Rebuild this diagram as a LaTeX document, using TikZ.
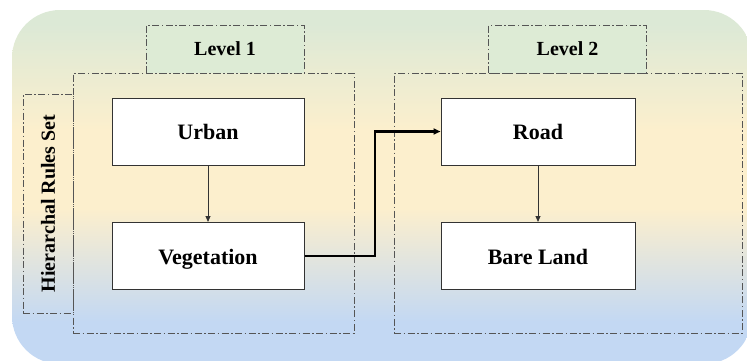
\documentclass[tikz,border=0pt]{standalone}
\usepackage{fontspec}
\setmainfont{Liberation Serif}
\usetikzlibrary{arrows.meta}
\definecolor{bgtop}{HTML}{DCE9D6}
\definecolor{bgmid}{HTML}{FCEFCD}
\definecolor{bgbot}{HTML}{C3D8F3}
\definecolor{lvlfill}{HTML}{DDEBD5}
\definecolor{frame}{HTML}{555555}
% soft green-to-cream-to-blue panel gradient
\pgfdeclareverticalshading{panelshade}{100bp}{%
  color(0bp)=(bgbot); color(31bp)=(bgbot); color(47bp)=(bgmid);
  color(58bp)=(bgmid); color(73bp)=(bgtop); color(100bp)=(bgtop)}
\tikzset{
  px/.style={x=1pt,y=-1pt},
  groupbox/.style={draw=frame,line width=0.8pt,
    dash pattern=on 7pt off 2.5pt on 1.5pt off 2.5pt},
  levelbox/.style={groupbox,fill=lvlfill,minimum width=158pt,minimum height=48pt,
    inner sep=0pt,font=\bfseries\fontsize{20}{24}\selectfont},
  classbox/.style={draw=black!80,line width=1pt,fill=white,minimum width=192pt,
    minimum height=67pt,inner sep=0pt,text height=16.5pt,text depth=0pt,
    font=\bfseries\fontsize{22}{26}\selectfont},
  thinarrow/.style={draw=black!80,line width=0.8pt,-{Triangle[length=6pt,width=5pt]}},
  thickarrow/.style={draw=black,line width=2.2pt,-{Triangle[length=7pt,width=6pt]}}
}
\begin{document}
\begin{tikzpicture}[px]
\useasboundingbox (0,0) rectangle (747,360);
% gradient background panel
\begin{scope}
  \clip (0,0) rectangle (747,360);
  \shade[rounded corners=48pt,shading=panelshade]
    (12,10) rectangle (752,364);
\end{scope}

% side label frame (behind the level 1 frame)
\node[groupbox,minimum width=50pt,minimum height=219pt,inner sep=0pt] (side) at (48,203.5) {};
\node[rotate=90,font=\bfseries\fontsize{20}{24}\selectfont] (sidetext) at (48,203.5) {Hierarchal Rules Set};

% level frames
\node[groupbox,minimum width=281pt,minimum height=260pt,inner sep=0pt] (frame1) at (213.5,203) {};
\node[groupbox,minimum width=348pt,minimum height=260pt,inner sep=0pt] (frame2) at (568,203) {};

% level titles
\node[levelbox] (lvl1) at (225,49) {Level 1};
\node[levelbox] (lvl2) at (567.5,49) {Level 2};

% classes
\node[classbox] (urban) at (208,131.5) {Urban};
\node[classbox] (veg) at (208,256) {Vegetation};
\node[classbox,minimum width=194pt] (road) at (538,131.5) {Road};
\node[classbox,minimum width=194pt] (bare) at (538,256) {Bare Land};

% connectors
\draw[thinarrow] (urban) -- (veg);
\draw[thinarrow] (road) -- (bare);
\coordinate (bend) at (375,0);
\draw[thickarrow] (veg.east) -- (veg.east -| bend) -- (road.west -| bend) -- (road.west);
\end{tikzpicture}
\end{document}
